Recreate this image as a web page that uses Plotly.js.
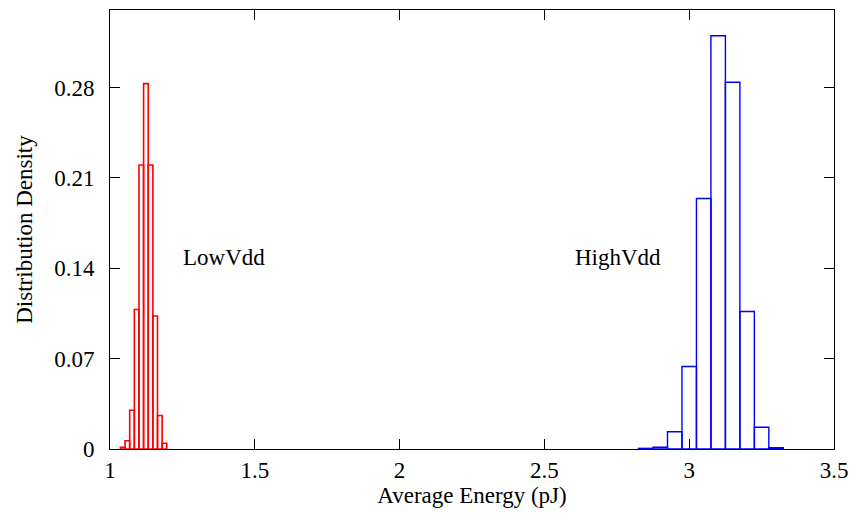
<!DOCTYPE html>
<html>
<head>
<meta charset="utf-8">
<script src="https://cdn.plot.ly/plotly-3.0.1.min.js"></script>
<style>html,body{margin:0;padding:0;background:#fff;}#chart{width:857px;height:514px;}</style>
</head>
<body>
<div id="chart"></div>
<script>
// Low Vdd histogram (bin centers, bin width, density)
var lowCenters = [1.044, 1.060, 1.076, 1.092, 1.108, 1.124, 1.140, 1.156, 1.172, 1.188];
var lowBinWidth = 0.016;
var lowDensity = [0.0013, 0.0064, 0.030, 0.108, 0.220, 0.283, 0.220, 0.103, 0.026, 0.0044];

// High Vdd histogram
var highCenters = [2.85, 2.90, 2.95, 3.00, 3.05, 3.10, 3.15, 3.20, 3.25, 3.30];
var highBinWidth = 0.05;
var highDensity = [0.0005, 0.0013, 0.0134, 0.0639, 0.194, 0.320, 0.284, 0.1065, 0.0168, 0.001];

// Axis ticks
var xTickVals = [1, 1.5, 2, 2.5, 3, 3.5];
var xTickText = ["1", "1.5", "2", "2.5", "3", "3.5"];
var yTickVals = [0, 0.07, 0.14, 0.21, 0.28];
var yTickText = ["0", "0.07", "0.14", "0.21", "0.28"];

// Text labels
var labelNames = ["LowVdd", "HighVdd"];
var labelX = [1.245, 2.599];
var labelY = [0.148, 0.148];

var FONT = "Liberation Serif, Times New Roman, serif";

var traces = [
  {
    type: "bar",
    x: lowCenters,
    y: lowDensity,
    width: lowCenters.map(function(){ return lowBinWidth; }),
    marker: {color: "rgba(255,255,255,0)", line: {color: "#ff0000", width: 1.6}},
    hoverinfo: "x+y"
  },
  {
    type: "bar",
    x: highCenters,
    y: highDensity,
    width: highCenters.map(function(){ return highBinWidth; }),
    marker: {color: "rgba(255,255,255,0)", line: {color: "#0000ff", width: 1.4}},
    hoverinfo: "x+y"
  }
];

var annotations = labelNames.map(function(t, i){
  return {
    x: labelX[i], y: labelY[i], xref: "x", yref: "y",
    text: t, showarrow: false, xanchor: "left", yanchor: "middle",
    font: {family: FONT, size: 23, color: "#000"}
  };
});

var layout = {
  width: 857, height: 514,
  margin: {l: 110, r: 23, t: 10, b: 65},
  paper_bgcolor: "#fff", plot_bgcolor: "#fff",
  showlegend: false,
  barmode: "overlay",
  font: {family: FONT, size: 23, color: "#000"},
  xaxis: {
    range: [1, 3.5],
    tickvals: xTickVals, ticktext: xTickText,
    ticks: "inside", ticklen: 10, tickwidth: 1, tickcolor: "#000",
    showline: true, linecolor: "#000", linewidth: 1, mirror: "ticks",
    showgrid: false, zeroline: false,
    ticklabelstandoff: 0,
    tickfont: {family: FONT, size: 23, color: "#000"},
    title: {text: "Average Energy (pJ)", font: {family: FONT, size: 23, color: "#000"}, standoff: 1}
  },
  yaxis: {
    range: [0, 0.34],
    tickvals: yTickVals, ticktext: yTickText,
    ticks: "inside", ticklen: 10, tickwidth: 1, tickcolor: "#000",
    showline: true, linecolor: "#000", linewidth: 1, mirror: "ticks",
    showgrid: false, zeroline: false,
    ticklabelstandoff: 10,
    tickfont: {family: FONT, size: 23, color: "#000"},
    title: {text: "Distribution Density", font: {family: FONT, size: 23, color: "#000"}, standoff: 15}
  },
  annotations: annotations
};

Plotly.newPlot("chart", traces, layout, {displayModeBar: false, staticPlot: true});
</script>
</body>
</html>
